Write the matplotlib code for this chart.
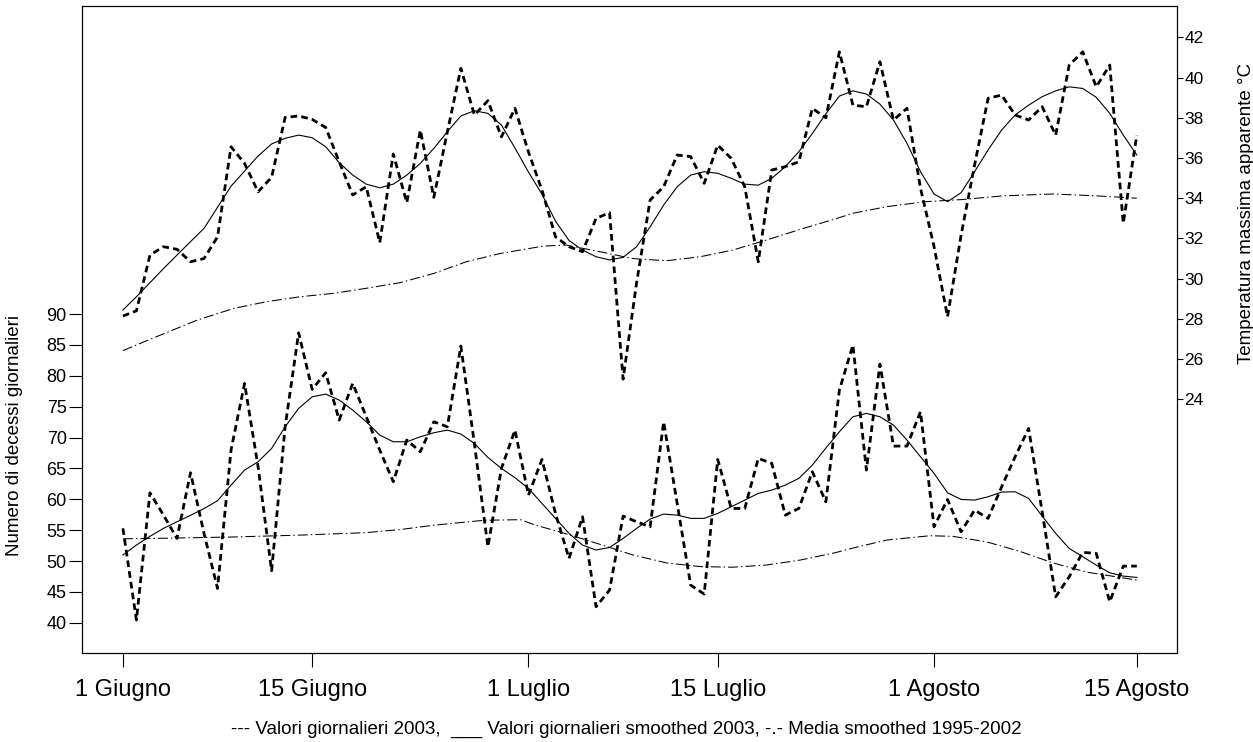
#!/usr/bin/env python3
"""
Decessi giornalieri e temperatura massima apparente, estate 2003.
"""

import matplotlib
matplotlib.use("Agg")
import matplotlib.pyplot as plt

plt.rcParams['font.family'] = ['Liberation Sans', 'DejaVu Sans']

# giorni dal 1 giugno
days = list(range(76))

temp_daily = [28.14, 28.4, 31.17, 31.59, 31.46, 30.84, 31.0, 32.08, 36.56, 35.73,
              34.32, 35.04, 38.02, 38.09, 37.92, 37.52, 35.81, 34.16, 34.57, 31.79,
              36.2, 33.78, 37.39, 34.04, 37.3, 40.46, 38.14, 38.85, 37.05, 38.47,
              36.3, 34.4, 32.08, 31.59, 31.34, 33.0, 33.28, 25.0, 29.8, 33.91,
              34.57, 36.15, 36.07, 34.74, 36.64, 35.98, 34.57, 30.84, 35.4, 35.57,
              35.81, 38.47, 38.0, 41.28, 38.63, 38.55, 40.79, 37.89, 38.47, 34.5,
              31.6, 28.11, 32.15, 35.65, 38.97, 39.13, 38.14, 37.89, 38.55, 37.14,
              40.62, 41.28, 39.54, 40.62, 32.75, 37.14]

temp_smooth = [28.44, 29.1, 29.8, 30.5, 31.17, 31.84, 32.5, 33.55, 34.6, 35.35,
               36.1, 36.7, 36.98, 37.14, 37.01, 36.56, 35.77, 35.15, 34.7, 34.52,
               34.7, 35.15, 35.73, 36.48, 37.31, 38.09, 38.35, 38.22, 37.64, 36.5,
               35.3, 34.2, 32.86, 31.9, 31.42, 31.09, 30.93, 31.06, 31.59, 32.58,
               33.66, 34.57, 35.15, 35.32, 35.24, 34.99, 34.7, 34.65, 34.99, 35.57,
               36.31, 37.22, 38.2, 39.08, 39.34, 39.18, 38.68, 37.89, 36.73, 35.32,
               34.21, 33.83, 34.27, 35.32, 36.4, 37.39, 38.14, 38.63, 39.05, 39.34,
               39.54, 39.46, 39.02, 38.22, 37.14, 36.15]

temp_mean_days = [0, 2, 5.5, 8.2, 10.6, 13.1, 15.6, 18, 20.5, 23, 25.4, 27.9, 31.1,
                  32.8, 35.3, 37.7, 40.2, 42.7, 45.1, 47.6, 50.1, 52.6, 54, 56.5,
                  59.4, 62.2, 65.1, 68.8, 72, 75]
temp_mean = [26.42, 26.98, 27.94, 28.52, 28.85, 29.1, 29.27, 29.52, 29.8, 30.26,
             30.84, 31.25, 31.62, 31.67, 31.34, 31.0, 30.89, 31.09, 31.42, 31.92,
             32.45, 32.95, 33.25, 33.58, 33.83, 33.94, 34.12, 34.21, 34.12, 34.0]

deaths_daily = [55.3, 40.44, 61.06, 57.44, 53.66, 64.3, 54.48, 45.57, 68.0, 78.77,
                65.27, 48.42, 71.75, 86.97, 77.8, 80.5, 72.83, 78.77, 73.37, 67.97,
                62.84, 69.6, 67.7, 72.56, 71.75, 84.82, 69.05, 52.31, 65.0, 71.21,
                60.68, 66.46, 57.7, 50.43, 57.17, 42.6, 45.3, 57.28, 56.36, 55.55,
                72.56, 59.33, 46.1, 44.65, 66.46, 58.52, 58.52, 66.63, 65.82, 57.44,
                58.52, 64.46, 59.6, 77.69, 84.98, 64.73, 81.9, 68.62, 68.62, 74.18,
                55.55, 59.98, 54.74, 58.25, 56.91, 62.0, 66.9, 71.48, 57.99, 44.2,
                47.45, 51.4, 51.24, 43.4, 49.18, 49.18]

deaths_smooth = [50.97, 52.6, 54.0, 55.29, 56.36, 57.4, 58.5, 59.77, 62.3, 64.73,
                 66.08, 68.24, 71.75, 74.72, 76.6, 77.04, 76.07, 74.45, 72.56, 70.4,
                 69.32, 69.32, 70.13, 70.78, 71.21, 70.57, 69.05, 66.78, 65.0, 63.5,
                 61.77, 59.33, 56.91, 54.48, 52.58, 51.78, 52.2, 53.66, 55.29, 56.8,
                 57.61, 57.44, 56.91, 56.91, 57.72, 58.79, 59.87, 60.96, 61.49, 62.3,
                 63.39, 65.54, 68.3, 70.94, 73.37, 73.91, 73.37, 72.02, 69.6, 66.9,
                 64.2, 61.06, 59.98, 59.87, 60.41, 61.17, 61.22, 60.14, 57.28, 54.48,
                 52.04, 50.7, 49.35, 48.1, 47.56, 47.35]

deaths_mean_days = [0, 3.2, 8.2, 13.1, 18, 20.5, 23, 26.7, 29.4, 30.4, 32.8, 35.3,
                    37.7, 40.2, 42.7, 45.1, 47.6, 50.1, 52.6, 54, 56.5, 59.7, 61.4,
                    63.9, 66.3, 68.8, 71.3, 75]
deaths_mean = [53.6, 53.7, 53.9, 54.2, 54.6, 55.1, 55.8, 56.6, 56.7, 55.9,
               54.4, 52.7, 51.0, 49.7, 49.1, 49.0, 49.35, 50.16, 51.3, 52.1,
               53.4, 54.1, 54.0, 53.1, 51.6, 49.7, 48.2, 46.92]

tick_days = [0, 14, 30, 44, 60, 75]
tick_labels = ["1 Giugno", "15 Giugno", "1 Luglio", "15 Luglio", "1 Agosto", "15 Agosto"]
deaths_ticks = list(range(40, 91, 5))
temp_ticks = list(range(24, 43, 2))

legend_text = ("--- Valori giornalieri 2003,  ___ Valori giornalieri smoothed 2003, "
               "-.- Media smoothed 1995-2002")

# line styles
daily_style = dict(color='black', lw=2.0, linestyle=(0, (2.4, 1.5)))
smooth_style = dict(color='black', lw=0.8, linestyle='-')
mean_style = dict(color='black', lw=0.75, linestyle=(0, (9.6, 2.9, 1.4, 2.9)))

fig = plt.figure(figsize=(12.53, 7.42), dpi=100)
ax = fig.add_axes([0.0654, 0.1199, 0.8739, 0.872])
ax2 = ax.twinx()

# deaths (left axis)
ax.plot(days, deaths_daily, **daily_style)
ax.plot(days, deaths_smooth, **smooth_style)
ax.plot(deaths_mean_days, deaths_mean, **mean_style)

# temperature (right axis)
ax2.plot(days, temp_daily, **daily_style)
ax2.plot(days, temp_smooth, **smooth_style)
ax2.plot(temp_mean_days, temp_mean, **mean_style)

ax.set_xlim(-3.03, 77.97)
ax.set_ylim(35.1, 139.9)
ax2.set_ylim(11.38, 43.56)

ax.set_xticks(tick_days)
ax.set_xticklabels(tick_labels, fontsize=17)
ax.set_yticks(deaths_ticks)
ax.set_yticklabels([str(v) for v in deaths_ticks], fontsize=13)
ax2.set_yticks(temp_ticks)
ax2.set_yticklabels([str(v) for v in temp_ticks], fontsize=12.5)

ax.tick_params(axis='x', direction='out', length=10, width=0.8, pad=9)
ax.tick_params(axis='y', direction='out', length=9.5, width=0.8, pad=1.5)
ax2.tick_params(axis='y', direction='out', length=4, width=0.8, pad=1.5)

for a in (ax, ax2):
    for s in a.spines.values():
        s.set_linewidth(0.8)

ax.set_ylabel("Numero di decessi giornalieri", fontsize=13.5)
ax.yaxis.set_label_coords(-0.054, 0.336)
ax2.set_ylabel("Temperatura massima apparente °C", fontsize=13.5)
ax2.yaxis.set_label_coords(1.0557, 0.68)

fig.text(0.5, 1 - 729 / 742, legend_text, ha='center', va='center', fontsize=13.5,
         family=['Liberation Sans Narrow', 'Liberation Sans'])

fig.savefig("out.png", dpi=100)
